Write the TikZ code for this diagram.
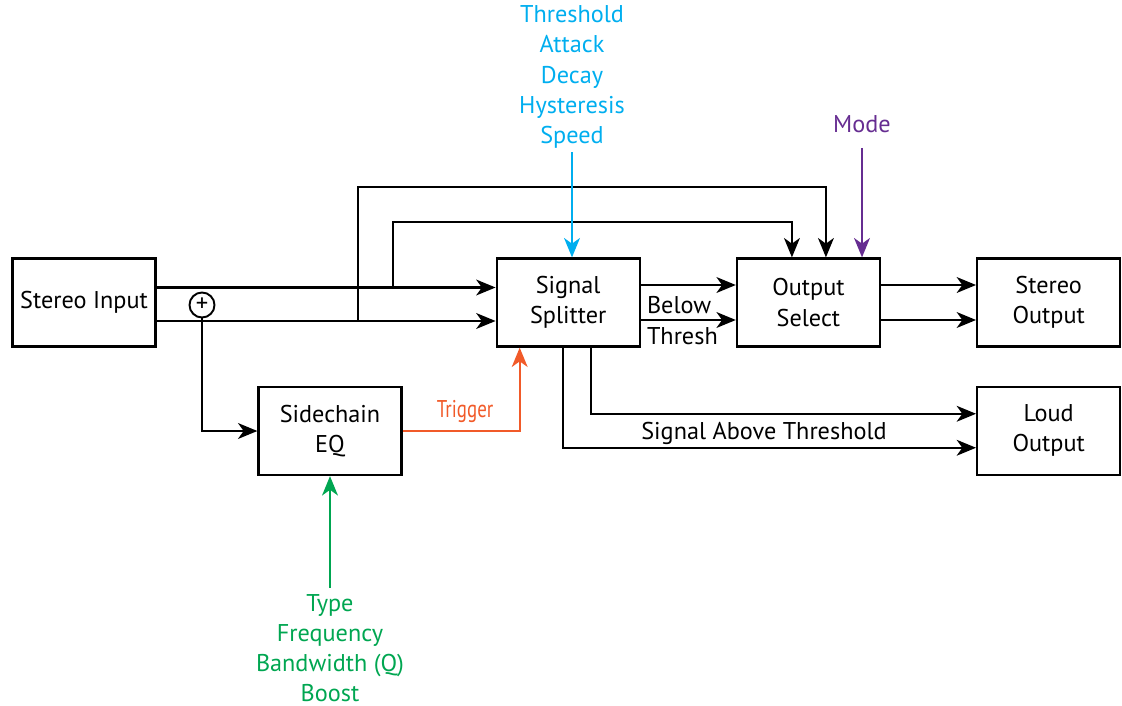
\documentclass[tikz,border=0pt]{standalone}
\usepackage{fontspec}
\setmainfont{PT Sans}
\usepackage{graphicx}
\usetikzlibrary{arrows.meta, positioning}
\definecolor{paramcyan}{RGB}{0,174,239}
\definecolor{eqgreen}{RGB}{0,166,81}
\definecolor{trigorange}{RGB}{241,90,41}
\definecolor{modepurple}{RGB}{102,45,145}
\tikzset{
    block/.style={rectangle, draw, line width=1.3pt, minimum width=2.86cm, minimum height=1.76cm, align=center, font=\fontsize{13.8}{17.2}\selectfont},
    label/.style={align=center, font=\fontsize{13.8}{17.2}\selectfont},
    summer/.style={circle, draw, line width=1.1pt, minimum size=0.5cm, inner sep=0pt, font=\fontsize{14}{14}\selectfont},
    sig/.style={line width=1.3pt, -{Stealth[length=11pt, width=9pt, inset=3.2pt]}}
}

\begin{document}
\begin{tikzpicture}[x=0.02cm, y=-0.02cm]
        \useasboundingbox (0,0) rectangle (1122,706);

        % Main signal path
        \node (inp) [block] at (84,302.5) {Stereo Input};
        \node (split) [block, right=6.78cm of inp] {Signal\\Splitter};
        \node (outsel) [block, right=1.9cm of split] {Output\\Select};
        \node (stout) [block, right=1.9cm of outsel] {Stereo\\Output};
        \node (loud) [block, below=0.76cm of stout] {Loud\\Output};
        \node (sceq) [block] at (330,431) {Sidechain\\EQ};
        \node (sum) [summer] at (202,305) {+};

        % Parameter labels
        \node (splitpar) [label, text=paramcyan] at (572,77) {Threshold\\Attack\\Decay\\Hysteresis\\Speed};
        \node (mode) [label, text=modepurple] at (862,124) {Mode};
        \node (eqpar) [label, text=eqgreen] at (330,648) {Type\\Frequency\\Bandwidth (Q)\\Boost};

        % Taps for the bypass paths
        \coordinate (tap1) at (358,321);
        \coordinate (bus1) at (600,187);
        \coordinate (tap2) at (393,286);
        \coordinate (bus2) at (600,222);

        % Input to splitter
        \draw [sig] ([yshift=0.3cm]inp.east) -- ([yshift=0.3cm]split.west);
        \draw [sig] ([yshift=-0.37cm]inp.east) -- ([yshift=-0.37cm]split.west);
        \draw [sig] (sum.south) |- (sceq.west);
        \draw [sig] (tap1) |- (bus1) -| ([xshift=0.35cm]outsel.north);
        \draw [sig] (tap2) |- (bus2) -| ([xshift=-0.33cm]outsel.north);

        % Splitter to outputs
        \draw [sig] ([yshift=0.35cm]split.east) -- ([yshift=0.35cm]outsel.west);
        \draw [sig] ([yshift=-0.35cm]split.east) -- ([yshift=-0.35cm]outsel.west);
        \node [label, anchor=west, align=left] at ([yshift=-0.36cm]split.east) {Below\\Thresh};
        \draw [sig] ([yshift=0.35cm]outsel.east) -- ([yshift=0.35cm]stout.west);
        \draw [sig] ([yshift=-0.35cm]outsel.east) -- ([yshift=-0.35cm]stout.west);
        \draw [sig] ([xshift=0.46cm]split.south) |- ([yshift=0.34cm]loud.west);
        \draw [sig] ([xshift=-0.11cm]split.south) |- ([yshift=-0.34cm]loud.west);
        \node [label] at (764,433) {Signal Above Threshold};

        % Control inputs
        \draw [sig, trigorange] (sceq.east) -| ([xshift=-0.97cm]split.south)
            node [pos=0.267, above=1pt, font=\fontsize{13.8}{16}\selectfont] {\scalebox{0.78}[1]{Trigger}};
        \draw [sig, paramcyan] ([yshift=0.05cm]splitpar.south) -- (splitpar.south |- split.north);
        \draw [sig, modepurple] ([yshift=-0.18cm]mode.south) -- (mode.south |- outsel.north);
        \draw [sig, eqgreen] (eqpar.north) -- (sceq.south);

    \end{tikzpicture}
\end{document}
